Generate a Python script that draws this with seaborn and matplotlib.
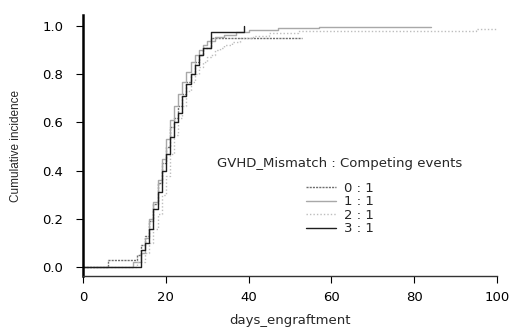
import pandas as pd
import matplotlib
matplotlib.use("Agg")
import matplotlib.pyplot as plt
import seaborn as sns

# step curves (day, cumulative incidence)
days_g0 = [0, 6, 13, 14, 15, 16, 17, 18, 19, 20, 21, 22, 23, 24, 25, 26, 27, 28, 29, 31, 53]
cinc_g0 = [0, 0.03, 0.05, 0.09, 0.13, 0.19, 0.26, 0.35, 0.43, 0.50, 0.58, 0.62, 0.67, 0.72,
           0.77, 0.80, 0.85, 0.88, 0.91, 0.95, 0.95]

days_g1 = [0, 12, 14, 15, 16, 17, 18, 19, 20, 21, 22, 23, 24, 25, 26, 27, 28, 29, 30, 32,
           34, 37, 40, 47, 57, 68, 84]
cinc_g1 = [0, 0.02, 0.06, 0.12, 0.20, 0.27, 0.36, 0.45, 0.53, 0.61, 0.67, 0.72, 0.77, 0.81,
           0.85, 0.88, 0.90, 0.92, 0.94, 0.955, 0.965, 0.975, 0.985, 0.99, 0.995, 0.998, 0.998]

days_g2 = [0, 13, 15, 16, 17, 18, 19, 20, 21, 22, 23, 24, 25, 26, 27, 28, 29, 30, 31, 32,
           33, 34, 36, 38, 41, 45, 52, 95, 100]
cinc_g2 = [0, 0.02, 0.06, 0.10, 0.16, 0.22, 0.30, 0.38, 0.47, 0.55, 0.62, 0.67, 0.73, 0.77,
           0.80, 0.83, 0.85, 0.87, 0.88, 0.90, 0.91, 0.92, 0.935, 0.95, 0.96, 0.97, 0.98,
           0.987, 0.987]

days_g3 = [0, 14, 15, 16, 17, 18, 19, 20, 21, 22, 23, 24, 25, 26, 27, 28, 29, 31, 39]
cinc_g3 = [0, 0.07, 0.10, 0.16, 0.24, 0.31, 0.40, 0.47, 0.54, 0.60, 0.64, 0.71, 0.76, 0.80,
           0.84, 0.88, 0.91, 0.976, 1.0]

group_labels = ["0 : 1", "1 : 1", "2 : 1", "3 : 1"]
x_ticks = [0, 20, 40, 60, 80, 100]
y_ticks = [0.0, 0.2, 0.4, 0.6, 0.8, 1.0]

frames = []
for lab, d, c in zip(group_labels, [days_g0, days_g1, days_g2, days_g3],
                     [cinc_g0, cinc_g1, cinc_g2, cinc_g3]):
    frames.append(pd.DataFrame({"days": d, "cinc": c, "group": lab}))
df = pd.concat(frames, ignore_index=True)

sns.set_style("white")
plt.rcParams["font.family"] = ["DejaVu Sans"]

palette = {"0 : 1": "#6e6e6e", "1 : 1": "#a8a8a8", "2 : 1": "#bdbdbd", "3 : 1": "#1e1e1e"}
dashes = {"0 : 1": (1.5, 0.8), "1 : 1": "", "2 : 1": (1, 1.5), "3 : 1": ""}

fig = plt.figure(figsize=(5.12, 3.33), dpi=100)
ax = fig.add_axes([0.162, 0.171, 0.809, 0.784])

sns.lineplot(data=df, x="days", y="cinc", hue="group", style="group",
             palette=palette, dashes=dashes, estimator=None, sort=False,
             drawstyle="steps-post", linewidth=1.0, legend=False, ax=ax)

ax.set_xlim(0, 100)
ax.set_ylim(-0.037, 1.046)
ax.set_xticks(x_ticks)
ax.set_xticklabels([str(t) for t in x_ticks])
ax.set_yticks(y_ticks)
ax.set_yticklabels([f"{t:.1f}" for t in y_ticks])

for s in ["top", "right"]:
    ax.spines[s].set_visible(False)
ax.spines["left"].set_linewidth(1.8)
ax.spines["left"].set_color("black")
ax.spines["bottom"].set_linewidth(1.0)
ax.spines["bottom"].set_color("#333333")
ax.tick_params(axis="both", direction="out", length=5, width=0.8, colors="black",
               labelsize=9.5, bottom=True, left=True)
ax.tick_params(axis="x", pad=6)
ax.tick_params(axis="y", pad=9)

ax.set_xlabel("days_engraftment", fontsize=9.5, labelpad=7)
ax.set_ylabel("Cumulative incidence", fontsize=8.5,
              family=["Liberation Sans Narrow", "Liberation Sans", "DejaVu Sans"], labelpad=15)

handles = ax.get_lines()[:4]
leg = fig.legend(handles, group_labels, title="GVHD_Mismatch : Competing events",
                 loc="upper center", bbox_to_anchor=(0.664, 0.563), frameon=False,
                 fontsize=9.5, title_fontsize=9.5, handlelength=2.3, handletextpad=0.6,
                 labelspacing=0.05)
leg._legend_box.sep = 8

fig.savefig("out.png", dpi=100)
